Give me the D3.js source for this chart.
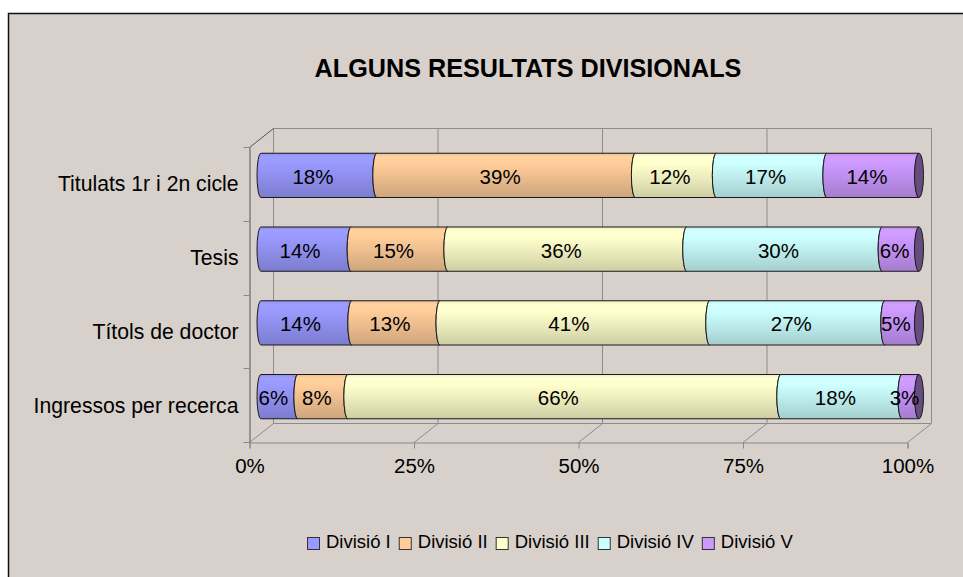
<!DOCTYPE html>
<html><head><meta charset="utf-8">
<script src="https://cdn.jsdelivr.net/npm/d3@7"></script>
<style>
body{margin:0;background:#fff;}
svg{display:block;font-family:"Liberation Sans",Arial,sans-serif;}
</style></head>
<body>
<svg id="chart" width="963" height="577"></svg>
<script>
// ---- data ----
const title = "ALGUNS RESULTATS DIVISIONALS";
const categories = ["Titulats 1r i 2n cicle", "Tesis", "Títols de doctor", "Ingressos per recerca"];
const seriesNames = ["Divisió I", "Divisió II", "Divisió III", "Divisió IV", "Divisió V"];
const divI   = [17.6, 13.7, 13.8, 5.6];
const divII  = [39.3, 14.7, 13.4, 7.6];
const divIII = [12.3, 36.3, 41.0, 65.8];
const divIV  = [16.8, 29.7, 26.6, 18.4];
const divV   = [14.0, 5.6, 5.2, 2.6];
const xTicks = [0, 0.25, 0.5, 0.75, 1];
const seriesColors = ["#9999ff", "#ffcc99", "#ffffcc", "#ccffff", "#cc99ff"];

// ---- build table ----
const seriesValues = [divI, divII, divIII, divIV, divV];
const rows = categories.map((c, i) => {
  const r = {cat: c};
  seriesNames.forEach((s, j) => r[s] = seriesValues[j][i]);
  return r;
});
const stacked = d3.stack().keys(seriesNames).offset(d3.stackOffsetExpand)(rows);

const svg = d3.select("#chart");
const W = 963, H = 577;

// frame
svg.append("rect").attr("x", 8.5).attr("y", 13.5).attr("width", W + 10).attr("height", H + 10)
  .attr("fill", "#d8d0cb").attr("stroke", "#111").attr("stroke-width", 1.5);

// title
svg.append("text").attr("x", 528).attr("y", 77).attr("text-anchor", "middle")
  .attr("font-size", 25.2).attr("font-weight", "bold").attr("fill", "#000").text(title);

// scales (front plane)
const x = d3.scaleLinear().domain([0, 1]).range([249, 907]);
const y = d3.scaleBand().domain(categories).range([147, 442]).padding(0);
const DX = 24, DY = -19; // full depth offset

const grid = svg.append("g").attr("fill", "none").attr("stroke-width", 1);
xTicks.forEach(t => {
  grid.append("line").attr("x1", x(t) + DX + 0.5).attr("x2", x(t) + DX + 0.5)
    .attr("y1", 147 + DY).attr("y2", 442 + DY).attr("stroke", "#8c8c8c");
  grid.append("line").attr("x1", x(t) + 0.5).attr("y1", 442.5)
    .attr("x2", x(t) + DX + 0.5).attr("y2", 442 + DY + 0.5).attr("stroke", "#8c8c8c");
});
grid.append("line").attr("x1", x(0) + DX).attr("x2", x(1) + DX)
  .attr("y1", 147 + DY + 0.5).attr("y2", 147 + DY + 0.5).attr("stroke", "#8c8c8c");
grid.append("line").attr("x1", x(0) + DX).attr("x2", x(1) + DX)
  .attr("y1", 442 + DY + 0.5).attr("y2", 442 + DY + 0.5).attr("stroke", "#8c8c8c");
grid.append("line").attr("x1", x(0) + 0.5).attr("y1", 147.5)
  .attr("x2", x(0) + DX + 0.5).attr("y2", 147 + DY + 0.5).attr("stroke", "#555");

// x axis (front floor edge)
const xAxis = d3.axisBottom(x).tickValues(xTicks).tickFormat(d3.format(".0%")).tickSizeOuter(0).tickSize(6).tickPadding(12);
const gx = svg.append("g").attr("transform", "translate(0.5,442.5)").call(xAxis);
gx.select(".domain").attr("stroke", "#888");
gx.selectAll(".tick line").attr("stroke", "#888");
gx.selectAll(".tick text").attr("font-size", 20.5).attr("fill", "#000").attr("font-family", "Liberation Sans, Arial, sans-serif").attr("dy", "0.0em").attr("y", 30.5);

// y axis (front left edge)
const yAxis = d3.axisLeft(y).tickSize(0).tickPadding(11).tickSizeOuter(0);
const gy = svg.append("g").attr("transform", "translate(249.5,0)").call(yAxis);
gy.select(".domain").attr("stroke", "#555");
gy.selectAll(".tick text").attr("font-size", 21.2).attr("fill", "#000").attr("font-family", "Liberation Sans, Arial, sans-serif").attr("dy", "0.35em");
const bounds = categories.map(c => y(c)).concat([y.range()[1]]);
gy.selectAll(".bnd").data(bounds).join("line").attr("class", "bnd")
  .attr("x1", -6).attr("x2", 0).attr("y1", d => Math.round(d) + 0.5).attr("y2", d => Math.round(d) + 0.5)
  .attr("stroke", "#888");

// gradients
const defs = svg.append("defs");
seriesColors.forEach((c, i) => {
  const g = defs.append("linearGradient").attr("id", "grad" + i).attr("x1", 0).attr("x2", 0).attr("y1", 0).attr("y2", 1);
  const base = d3.color(c);
  g.append("stop").attr("offset", "0%").attr("stop-color", base.darker(0.2));
  g.append("stop").attr("offset", "8%").attr("stop-color", base.brighter(0.1));
  g.append("stop").attr("offset", "25%").attr("stop-color", base);
  g.append("stop").attr("offset", "100%").attr("stop-color", base.darker(0.6));
});

// bars at mid depth
const bx = 12, by = -8.5;
const barH = y.bandwidth() * 0.6;
const rx = 4;
function segPath(xa, xb, yt, yb) {
  const ry = (yb - yt) / 2;
  return `M${xa},${yt}L${xb},${yt}A${rx},${ry} 0 0 0 ${xb},${yb}L${xa},${yb}A${rx},${ry} 0 0 1 ${xa},${yt}Z`;
}
const barsG = svg.append("g");
stacked.forEach((layer, si) => {
  layer.forEach((d, ci) => {
    const cat = d.data.cat;
    const yc = y(cat) + y.bandwidth() / 2 + by;
    const yt = yc - barH / 2, yb = yc + barH / 2;
    const xa = x(d[0]) + bx, xb = x(d[1]) + bx;
    barsG.append("path").attr("d", segPath(xa, xb, yt, yb))
      .attr("fill", `url(#grad${si})`).attr("stroke", "#1a1a1a").attr("stroke-width", 1);
  });
});
const lastLayer = stacked[stacked.length - 1];
lastLayer.forEach(d => {
  const yc = y(d.data.cat) + y.bandwidth() / 2 + by;
  const base = d3.color(seriesColors[seriesColors.length - 1]);
  const dark = d3.rgb(base.r * 0.5, base.g * 0.5, base.b * 0.5);
  barsG.append("ellipse").attr("cx", x(d[1]) + bx).attr("cy", yc).attr("rx", rx + 0.5).attr("ry", barH / 2)
    .attr("fill", dark).attr("stroke", "#1a1a1a").attr("stroke-width", 1);
});
// labels
const fmt = v => Math.round(v) + "%";
stacked.forEach((layer, si) => {
  layer.forEach((d, ci) => {
    const yc = y(d.data.cat) + y.bandwidth() / 2 + by;
    const xc = x((d[0] + d[1]) / 2) + 6;
    svg.append("text").attr("x", xc).attr("y", yc + 8.5).attr("text-anchor", "middle")
      .attr("font-size", 20.5).attr("fill", "#000").text(fmt(seriesValues[si][ci]));
  });
});

// legend
const leg = svg.append("g");
let lx = 0;
seriesNames.forEach((s, i) => {
  const g = leg.append("g");
  g.append("rect").attr("x", 0.5).attr("y", 537.5).attr("width", 12).attr("height", 12)
    .attr("fill", seriesColors[i]).attr("stroke", "#333");
  const t = g.append("text").attr("x", 19).attr("y", 548).attr("font-size", 18.5).attr("fill", "#000").text(s);
  const w = t.node().getComputedTextLength();
  g.attr("transform", `translate(${lx},0)`);
  lx += 19 + w + 8;
});
const totalW = lx - 8;
leg.attr("transform", `translate(${Math.round(550 - totalW / 2)},0)`);
</script>
</body></html>
